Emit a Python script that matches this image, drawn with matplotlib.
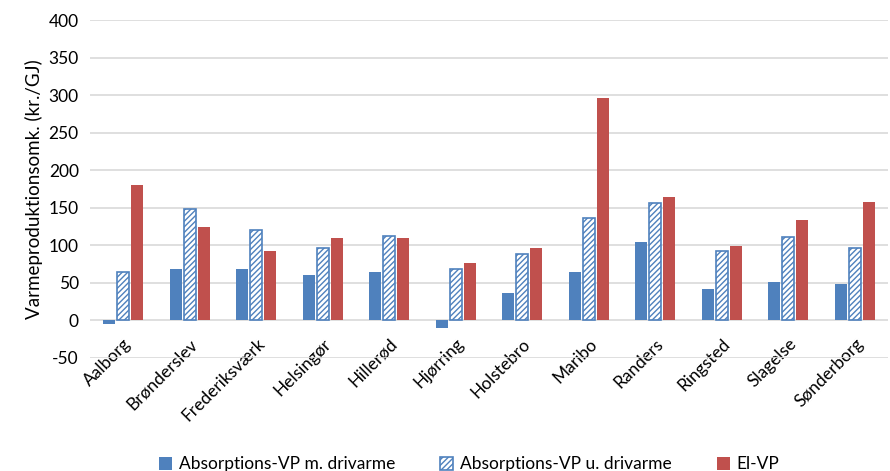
import matplotlib.pyplot as plt
import numpy as np

plt.rcParams['font.family'] = ['Lato', 'DejaVu Sans']
plt.rcParams['axes.unicode_minus'] = False
plt.rcParams['hatch.linewidth'] = 1.0
plt.rcParams['hatch.color'] = '#4F81BD'

byer = ['Aalborg', 'Brønderslev', 'Frederiksværk', 'Helsingør', 'Hillerød', 'Hjørring',
        'Holstebro', 'Maribo', 'Randers', 'Ringsted', 'Slagelse', 'Sønderborg']
abs_m_drivarme = [-5, 68, 68, 60, 64, -10, 36, 64, 104, 42, 51, 49]
abs_u_drivarme = [64, 148, 120, 96, 113, 69, 89, 136, 157, 92, 111, 96]
el_vp = [180, 125, 92, 110, 110, 77, 97, 296, 164, 99, 134, 158]

fig = plt.figure(figsize=(8.9, 4.71), dpi=100)
ax = fig.add_axes([0.101, 0.24, 0.897, 0.717])

x = np.arange(len(byer))
w = 0.18
gap = 0.21
ax.bar(x - gap, abs_m_drivarme, w, color='#4F81BD', label='Absorptions-VP m. drivarme', zorder=3)
ax.bar(x, abs_u_drivarme, w, color='white', edgecolor='#4F81BD', hatch='//////',
       linewidth=1.2, label='Absorptions-VP u. drivarme', zorder=3)
ax.bar(x + gap, el_vp, w, color='#C0504D', label='El-VP', zorder=3)

ax.set_xlim(-0.5, len(byer) - 0.5)
ax.set_ylim(-50, 400)
ax.set_yticks(range(-50, 401, 50))
ax.grid(axis='y', color='#D9D9D9', linewidth=1.2, zorder=0)
ax.spines['bottom'].set_position(('data', 0))
for s in ax.spines.values():
    s.set_visible(False)
ax.tick_params(axis='y', length=0, labelsize=12.5, pad=8)
ax.tick_params(axis='x', length=0, labelsize=12.5, pad=11)
ax.set_xticks(x)
ax.set_xticklabels(byer, rotation=45, ha='right', rotation_mode='anchor')
ax.set_ylabel('Varmeproduktionsomk. (kr./GJ)', fontsize=13.5)

ax.legend(loc='lower center', bbox_to_anchor=(0.475, -0.385), ncol=3, frameon=False,
          fontsize=12.5, handlelength=0.75, handleheight=0.75, handletextpad=0.4,
          columnspacing=2.6)

fig.savefig('out.png', dpi=100)
